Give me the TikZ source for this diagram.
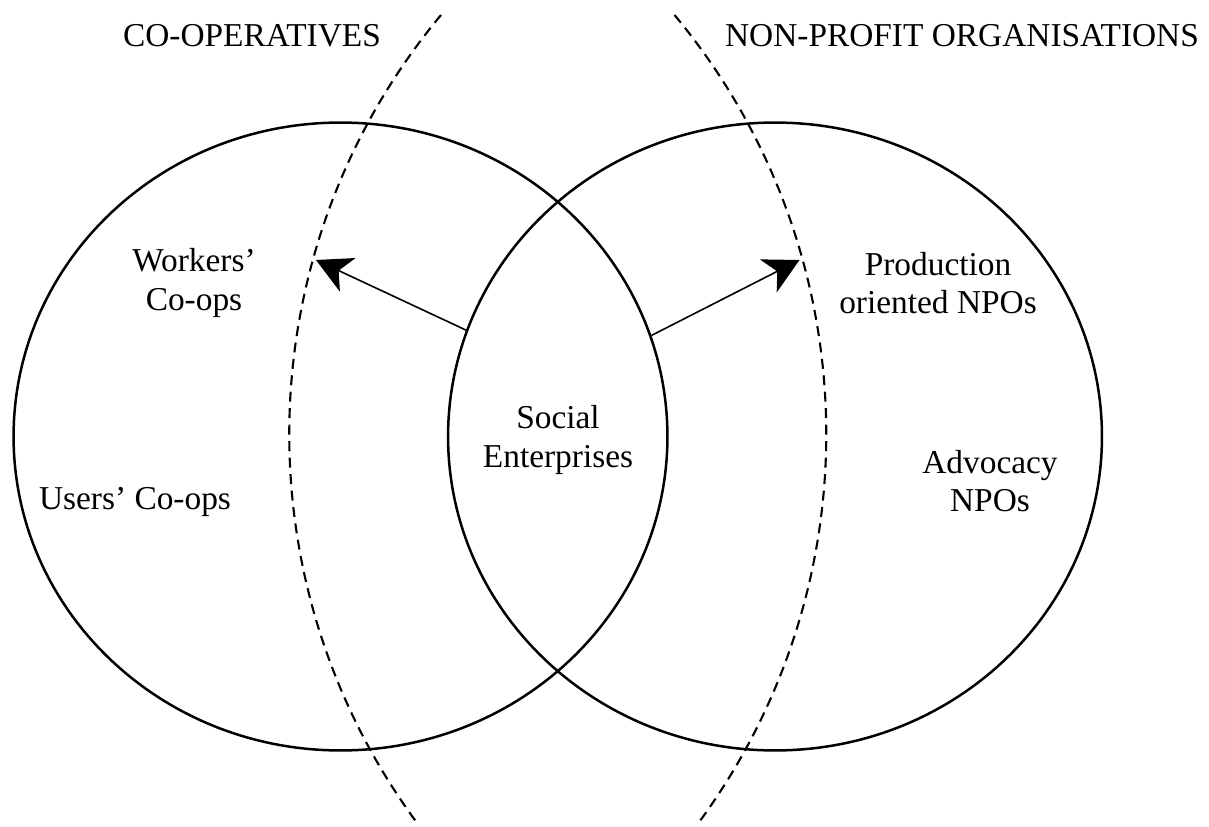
\documentclass[tikz,border=0pt]{standalone}
\usepackage{fontspec}
\setmainfont{Liberation Serif}
\usetikzlibrary{shapes.geometric}
\usetikzlibrary{arrows.meta}
\tikzstyle{sector}=[draw, ellipse, minimum width=13.08cm, minimum height=12.56cm, inner sep=0, line width=0.5mm]
\tikzstyle{boundary}=[line width=0.42mm, dash pattern=on 2mm off 1.3mm]
\tikzstyle{spread}=[line width=0.32mm, -{Stealth[length=7mm, width=7.4mm, inset=2mm]}]
\tikzstyle{heading}=[font=\fontsize{19}{22}\selectfont]
\tikzstyle{member}=[font=\fontsize{19}{22}\selectfont, align=center]

\begin{document}
\begin{tikzpicture}[x=0.02cm, y=-0.02cm]
      \useasboundingbox (0, 0) rectangle (1209, 827);

      \node[sector] (coop) at (340.5, 436.5) {};
      \node[sector] (npo) at (775, 436.5) {};

      \coordinate (coop_edge) at (441, 15);
      \coordinate (npo_edge) at (674.5, 15);
      \draw[boundary] (coop_edge) arc[start angle=219.8, end angle=143.4, radius=655];
      \draw[boundary] (npo_edge) arc[start angle=-39.8, end angle=36.6, radius=655];

      \node[heading] (coop_title) at (252, 36) {CO-OPERATIVES};
      \node[heading] (npo_title) at (962, 36) {NON-PROFIT ORGANISATIONS};

      \node[member] (workers) at (194, 283) {Workers’\\Co-ops};
      \node[member] (users) at (135, 502) {Users’ Co-ops};
      \node[member] (social) at (558, 440) {Social\\Enterprises};
      \node[member] (production) at (938, 283) {Production\\oriented NPOs};
      \node[member] (advocacy) at (990, 481) {Advocacy\\NPOs};

      \coordinate (coop_tip) at (316, 260);
      \coordinate (npo_tip) at (799.5, 260);

      \draw[spread] (npo.161.4) -- (coop_tip);
      \draw[spread] (coop.18.6) -- (npo_tip);
    \end{tikzpicture}
\end{document}
